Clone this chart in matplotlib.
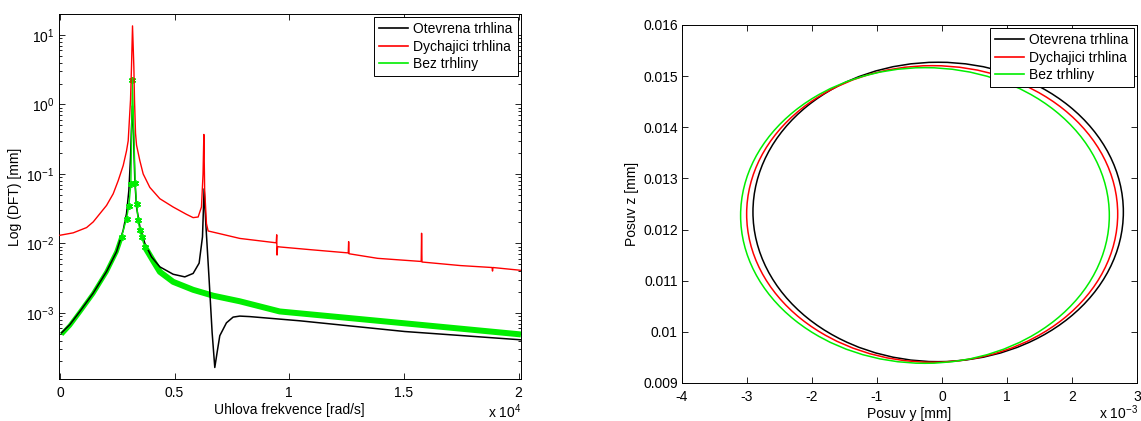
import matplotlib
matplotlib.use("Agg")
import matplotlib.pyplot as plt
from matplotlib.patches import Ellipse
from matplotlib.lines import Line2D
from matplotlib.ticker import FuncFormatter, MultipleLocator
import numpy as np

plt.rcParams['font.family'] = ['Liberation Sans', 'DejaVu Sans']
plt.rcParams['font.size'] = 10
plt.rcParams['mathtext.default'] = 'regular'

labels = ["Otevrena trhlina", "Dychajici trhlina", "Bez trhliny"]
colors = ["black", "red", "#00ee00"]

# spectrum - open crack
freq_open = [73, 436, 871, 1452, 2033, 2468, 2759, 2904, 3006, 3078, 3120, 3160, 3200,
             3267, 3340, 3485, 3703, 3993, 4356, 4937, 5445, 5808, 6069, 6215, 6287,
             6360, 6505, 6636, 6752, 6853, 6970, 7260, 7550, 7841, 8275, 10460, 15030,
             20100]
amp_open = [5.18e-4, 6.8e-4, 1.05e-3, 1.93e-3, 3.94e-3, 7.6e-3, 0.0155, 0.027, 0.058,
            0.172, 0.45, 0.95, 0.45, 0.08, 0.0334, 0.0174, 0.010, 6.4e-3, 4.6e-3,
            3.6e-3, 3.3e-3, 3.7e-3, 5.2e-3, 0.0124, 0.061, 0.0193, 3.0e-3, 5.2e-4,
            1.64e-4, 2.7e-4, 4.7e-4, 7.2e-4, 8.7e-4, 9.0e-4, 8.85e-4, 7.7e-4, 5.4e-4,
            4.1e-4]

# spectrum - breathing crack
freq_breath = [0, 581, 1162, 1452, 1742, 2033, 2323, 2541, 2759, 2904, 2977, 3078,
               3121, 3165, 3223, 3252, 3296, 3340, 3485, 3630, 3920, 4356, 4937, 5518,
               5808, 6026, 6171, 6240, 6275, 6310, 6389, 6461, 6970, 7841, 9430, 9451,
               9465, 9490, 9580, 10970, 12570, 12587, 12605, 13850, 15750, 15767,
               15785, 17460, 18840, 18859, 18878, 20100]
amp_breath = [0.0131, 0.0142, 0.0169, 0.0204, 0.0268, 0.0352, 0.0518, 0.080, 0.132,
              0.215, 0.30, 1.16, 3.5, 13.5, 3.5, 1.16, 0.385, 0.26, 0.155, 0.10, 0.064,
              0.044, 0.0334, 0.0262, 0.0235, 0.024, 0.0334, 0.10, 0.37, 0.06, 0.0193,
              0.0151, 0.0138, 0.0118, 0.0102, 0.0133, 0.0068, 0.0090, 0.0089, 0.0081,
              0.0073, 0.0106, 0.0071, 0.0061, 0.0055, 0.014, 0.0054, 0.0048, 0.0045,
              0.0040, 0.0045, 0.0041]

# spectrum - no crack
freq_intact = [73, 436, 871, 1452, 2033, 2468, 2686, 2904, 3006, 3093, 3160, 3282,
               3340, 3412, 3485, 3557, 3703, 4066, 4356, 4937, 5808, 6680, 7841, 9580,
               15000, 20100]
amp_intact = [4.9e-4, 6.6e-4, 1.03e-3, 1.9e-3, 3.9e-3, 7.6e-3, 0.0124, 0.0228, 0.035,
              0.072, 2.25, 0.074, 0.037, 0.0216, 0.0155, 0.0124, 8.9e-3, 5.6e-3,
              3.9e-3, 2.8e-3, 2.15e-3, 1.77e-3, 1.47e-3, 1.05e-3, 7.1e-4, 4.9e-4]

# orbits (centre and half axes, mm)
orbit_cy = [-0.059e-3, -0.151e-3, -0.262e-3]
orbit_cz = [0.012344, 0.0123045, 0.012275]
orbit_ay = [2.849e-3, 2.854e-3, 2.836e-3]
orbit_az = [0.002927, 0.0028995, 0.00289]

fig = plt.figure(figsize=(11.41, 4.21), dpi=100)
fig.patch.set_facecolor("white")

ax1 = fig.add_axes([0.0513, 0.0998, 0.4053, 0.8669])
ax2 = fig.add_axes([0.5977, 0.0903, 0.3988, 0.8504])

# --- left: DFT
fi = np.array(freq_intact)
ai = np.array(amp_intact)
low = fi <= 2686
high = fi >= 3703
mid = (fi >= 2686) & (fi <= 3703)
ax1.plot(fi[low], ai[low], color=colors[2], lw=3.2, zorder=2, solid_capstyle="butt")
ax1.plot(fi[high], ai[high], color=colors[2], lw=4.3, zorder=2, solid_capstyle="butt")
ax1.plot(fi[mid], ai[mid], color=colors[2], lw=1.0, marker=(6, 2, 0), ms=5, mew=1.2,
         zorder=3.5)
ax1.plot(freq_open, amp_open, color=colors[0], lw=1.1, zorder=3)
ax1.plot(freq_breath, amp_breath, color=colors[1], lw=1.0, zorder=4)

ax1.set_yscale("log")
ax1.set_xlim(-60, 20100)
ax1.set_ylim(1.12e-4, 20)
ax1.xaxis.set_major_locator(MultipleLocator(5000))
ax1.xaxis.set_major_formatter(FuncFormatter(lambda v, p: "%g" % (v / 1e4)))
ax1.set_xlabel("Uhlova frekvence [rad/s]", labelpad=2)
ax1.set_ylabel("Log (DFT) [mm]", labelpad=3)
ax1.text(1.0, -0.09, r"x 10$^{4}$", transform=ax1.transAxes, ha="right", va="center")

# --- right: orbits
for k in range(3):
    ax2.add_patch(Ellipse((orbit_cy[k], orbit_cz[k]), 2 * orbit_ay[k], 2 * orbit_az[k],
                          fill=False, edgecolor=colors[k], lw=1.1))
ax2.set_xlim(-4e-3, 3e-3)
ax2.set_ylim(0.009, 0.016)
ax2.xaxis.set_major_locator(MultipleLocator(1e-3))
ax2.xaxis.set_major_formatter(FuncFormatter(lambda v, p: "%g" % round(v * 1e3, 6)))
ax2.yaxis.set_major_locator(MultipleLocator(0.001))
ax2.yaxis.set_major_formatter(FuncFormatter(lambda v, p: "%g" % round(v, 6)))
ax2.set_xlabel("Posuv y [mm]", labelpad=2)
ax2.set_ylabel("Posuv z [mm]", labelpad=3)
ax2.text(0.917, -0.083, r"x 10$^{-3}$", transform=ax2.transAxes, ha="left", va="center")

handles = [Line2D([], [], color=c, lw=1.2) for c in colors]
for ax in (ax1, ax2):
    ax.tick_params(which="both", direction="in", top=True, right=True, pad=5)
    ax.tick_params(axis="y", which="both", pad=3)
    ax.tick_params(which="major", length=4.5, width=0.6)
    ax.tick_params(which="minor", length=2.5, width=0.6)
    for s in ax.spines.values():
        s.set_linewidth(0.7)
    leg = ax.legend(handles, labels, loc="upper right", fancybox=False, framealpha=1,
                    edgecolor="black", borderaxespad=0.25, labelspacing=0.25,
                    handlelength=2.1, handletextpad=0.35, borderpad=0.35)
    leg.get_frame().set_linewidth(0.7)

fig.savefig("out.png", dpi=100)
